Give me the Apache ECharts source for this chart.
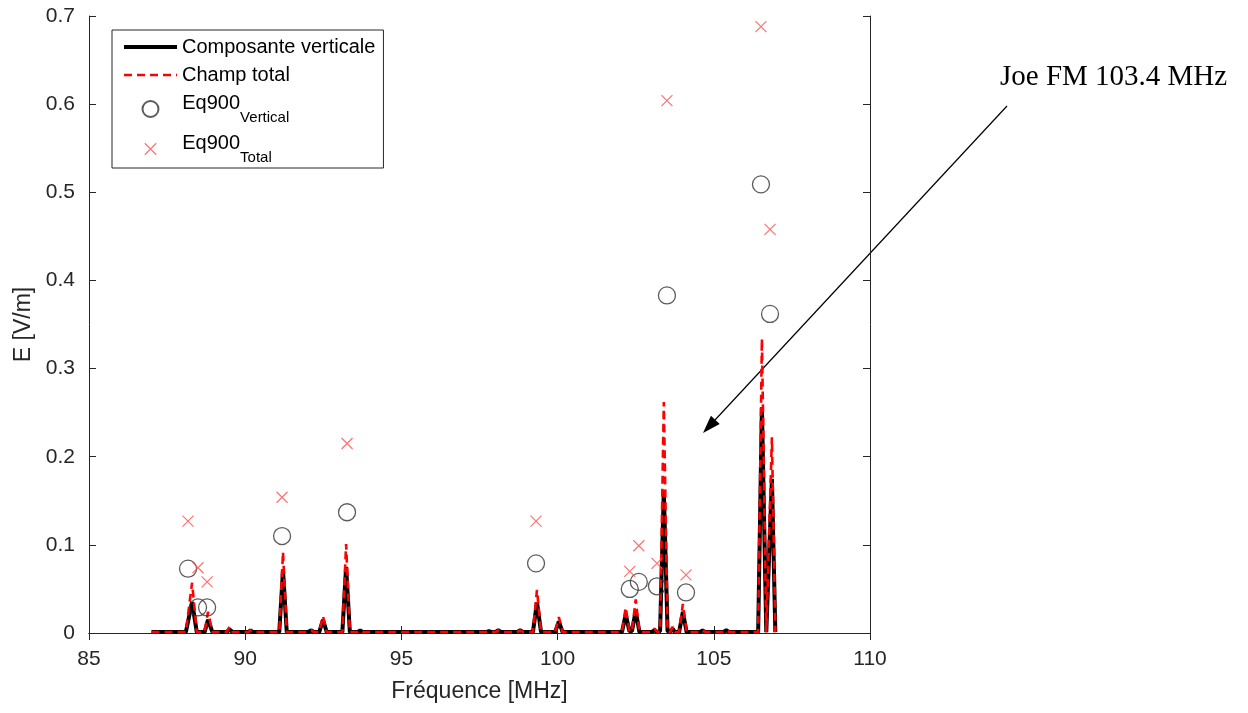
<!DOCTYPE html>
<html>
<head>
<meta charset="utf-8">
<script src="https://cdn.jsdelivr.net/npm/echarts@6/dist/echarts.min.js"></script>
<style>html,body{margin:0;padding:0;background:#fff;}#c{width:1248px;height:713px;}</style>
</head>
<body>
<div id="c"></div>
<script>
// ---- data ----
const freq = [87.0, 87.6, 88.1, 88.3, 88.45, 88.7, 88.81, 88.95, 89.4, 89.5, 89.6, 90.1, 90.17, 90.25,
  91.09, 91.21, 91.33, 92.0, 92.12, 92.2, 92.37, 92.49, 92.61, 93.11, 93.23, 93.35, 93.6, 93.68, 93.76,
  95.0, 96.5, 97.7, 97.8, 97.9, 98.0, 98.1, 98.2, 98.7, 98.8, 98.9, 99.21, 99.34, 99.47, 99.92, 100.04, 100.16,
  101.0, 102.06, 102.18, 102.3, 102.38, 102.5, 102.62, 103.0, 103.1, 103.2, 103.28, 103.4, 103.52, 103.6, 103.68, 103.76,
  103.89, 104.01, 104.13, 104.55, 104.64, 104.73, 105.3, 105.4, 105.5, 106.42, 106.54, 106.68, 106.86, 106.97];
const vertical = [0.001, 0.001, 0.001, 0.035, 0.001, 0.001, 0.015, 0.001, 0.001, 0.004, 0.001, 0.001, 0.003, 0.001,
  0.001, 0.071, 0.001, 0.001, 0.003, 0.001, 0.001, 0.015, 0.001, 0.001, 0.075, 0.001, 0.001, 0.003, 0.001,
  0.001, 0.001, 0.001, 0.002, 0.001, 0.001, 0.003, 0.001, 0.001, 0.003, 0.001, 0.001, 0.035, 0.001, 0.001, 0.013, 0.001,
  0.001, 0.001, 0.021, 0.002, 0.002, 0.025, 0.001, 0.001, 0.003, 0.001, 0.002, 0.162, 0.002, 0.001, 0.005, 0.001,
  0.001, 0.024, 0.001, 0.001, 0.003, 0.001, 0.001, 0.003, 0.001, 0.001, 0.256, 0.001, 0.175, 0.001];
const total = [0.001, 0.001, 0.001, 0.057, 0.001, 0.001, 0.024, 0.001, 0.001, 0.007, 0.001, 0.001, 0.003, 0.001,
  0.001, 0.092, 0.001, 0.001, 0.003, 0.001, 0.001, 0.019, 0.001, 0.001, 0.101, 0.001, 0.001, 0.003, 0.001,
  0.001, 0.001, 0.001, 0.002, 0.001, 0.001, 0.003, 0.001, 0.001, 0.003, 0.001, 0.001, 0.049, 0.001, 0.001, 0.018, 0.001,
  0.001, 0.001, 0.029, 0.002, 0.002, 0.038, 0.001, 0.001, 0.005, 0.001, 0.002, 0.262, 0.002, 0.001, 0.007, 0.001,
  0.001, 0.033, 0.001, 0.001, 0.003, 0.001, 0.001, 0.003, 0.001, 0.001, 0.334, 0.001, 0.222, 0.001];
const eqFreq = [88.17, 88.49, 88.78, 91.18, 93.26, 99.31, 102.31, 102.60, 103.18, 103.50, 104.11, 106.51, 106.80];
const eqVertical = [0.073, 0.029, 0.029, 0.110, 0.137, 0.079, 0.050, 0.058, 0.053, 0.383, 0.046, 0.509, 0.362];
const eqTotal = [0.127, 0.074, 0.058, 0.154, 0.215, 0.127, 0.070, 0.099, 0.079, 0.604, 0.066, 0.688, 0.458];
const xTicks = [85, 90, 95, 100, 105, 110];
const yTicks = [0, 0.1, 0.2, 0.3, 0.4, 0.5, 0.6, 0.7];
const annotationText = 'Joe FM 103.4 MHz';

// ---- chart ----
const pair = (xs, ys) => xs.map((x, i) => [x, ys[i]]);
const F = 'Liberation Sans, Arial, Helvetica, sans-serif';
const AX = '#262626';
const chart = echarts.init(document.getElementById('c'), null, {renderer: 'canvas'});
const axisCommon = {
  axisLine: {show: true, lineStyle: {color: AX, width: 1}},
  axisTick: {show: true, inside: true, length: 7, lineStyle: {color: AX}},
  splitLine: {show: false}
};
const hideSym = {color: 'rgba(0,0,0,0)', borderColor: 'rgba(0,0,0,0)', borderWidth: 0, opacity: 0};
const blackLine = {color: '#000', width: 4};
const redLine = {color: '#ff0000', width: 2.6, type: [8, 5]};
chart.setOption({
  animation: false,
  backgroundColor: '#fff',
  grid: {left: 89, right: 378, top: 16, bottom: 80},
  xAxis: [
    Object.assign({type: 'value', min: xTicks[0], max: xTicks[xTicks.length - 1], interval: 5, position: 'bottom',
      name: 'Fréquence [MHz]', nameLocation: 'middle', nameGap: 47,
      nameTextStyle: {fontFamily: F, fontSize: 23, color: AX},
      axisLabel: {fontFamily: F, fontSize: 21, color: AX, margin: 16}}, axisCommon),
    Object.assign({type: 'value', min: xTicks[0], max: xTicks[xTicks.length - 1], interval: 5, position: 'top',
      axisLabel: {show: false}}, axisCommon)
  ],
  yAxis: [
    Object.assign({type: 'value', min: yTicks[0], max: yTicks[yTicks.length - 1], interval: 0.1, position: 'left',
      name: 'E [V/m]', nameLocation: 'middle', nameGap: 52,
      nameTextStyle: {fontFamily: F, fontSize: 23, color: AX},
      axisLabel: {fontFamily: F, fontSize: 21, color: AX, margin: 14}}, axisCommon),
    Object.assign({type: 'value', min: yTicks[0], max: yTicks[yTicks.length - 1], interval: 0.1, position: 'right',
      axisLabel: {show: false}}, axisCommon)
  ],
  legend: {
    left: 112, top: 30, orient: 'vertical',
    backgroundColor: '#fff', borderColor: AX, borderWidth: 1,
    padding: [7, 8, 3, 10], itemGap: 8, itemWidth: 53, itemHeight: 16,
    textStyle: {fontFamily: F, fontSize: 20, color: '#000',
      rich: {
        a: {fontFamily: F, fontSize: 20, color: '#000', lineHeight: 20, verticalAlign: 'top'},
        s: {fontFamily: F, fontSize: 15, color: '#000', lineHeight: 18, verticalAlign: 'bottom'},
        z: {fontSize: 1, lineHeight: 32}
      }},
    formatter: function (name) {
      if (name === 'Eq900Vertical') return '{z| }{a|Eq900}{s|Vertical}';
      if (name === 'Eq900Total') return '{z| }{a|Eq900}{s|Total}';
      return name;
    },
    data: [
      {name: 'Composante verticale', itemStyle: hideSym, lineStyle: blackLine},
      {name: 'Champ total', itemStyle: hideSym, lineStyle: redLine},
      {name: 'Eq900Vertical'},
      {name: 'Eq900Total', icon: 'path://M-2,-2M0,0L10,10M10,0L0,10M12,12',
        itemStyle: {color: 'rgba(0,0,0,0)', borderColor: '#ff4d4d', borderWidth: 1.2}}
    ]
  },
  series: [
    {name: 'Composante verticale', type: 'line', data: pair(freq, vertical), symbol: 'none', z: 2,
      lineStyle: blackLine, itemStyle: {color: '#000'}},
    {name: 'Champ total', type: 'line', data: pair(freq, total), symbol: 'none', z: 3,
      lineStyle: redLine, itemStyle: {color: '#ff0000'}},
    {name: 'Eq900Vertical', type: 'scatter', data: pair(eqFreq, eqVertical), symbol: 'circle', symbolSize: 17, z: 4,
      itemStyle: {color: 'rgba(0,0,0,0)', borderColor: '#333', borderWidth: 1.3}},
    {name: 'Eq900Total', type: 'scatter', data: pair(eqFreq, eqTotal), symbol: 'path://M0,0L10,10M10,0L0,10', symbolSize: 11, z: 4,
      itemStyle: {color: 'rgba(0,0,0,0)', borderColor: '#ff4d4d', borderWidth: 1.2}}
  ],
  graphic: [
    {type: 'text', left: 1000, top: 63, style: {text: annotationText, font: '29px "Liberation Serif", "Times New Roman", serif', fill: '#000'}},
    {type: 'line', shape: {x1: 1007, y1: 106, x2: 715, y2: 420}, style: {stroke: '#000', lineWidth: 1.2}},
    {type: 'polygon', shape: {points: [[703, 433], [719.7, 423.9], [710.9, 415.7]]}, style: {fill: '#000'}}
  ]
});
</script>
</body>
</html>
